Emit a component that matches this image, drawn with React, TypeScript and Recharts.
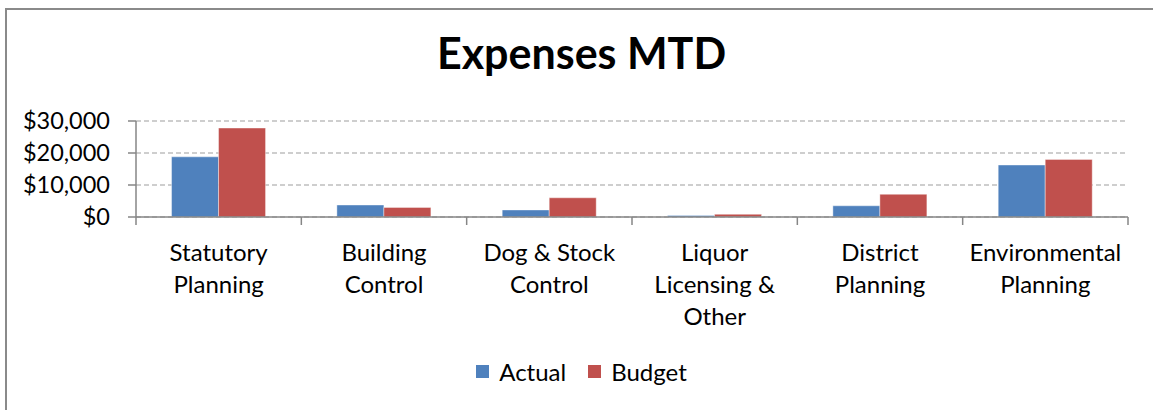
import React from "react";
import { BarChart, Bar, XAxis, YAxis, CartesianGrid } from "recharts";

const categories = [
  "Statutory Planning",
  "Building Control",
  "Dog & Stock Control",
  "Liquor Licensing & Other",
  "District Planning",
  "Environmental Planning",
];
const tickLabelLines = [
  ["Statutory", "Planning"],
  ["Building", "Control"],
  ["Dog & Stock", "Control"],
  ["Liquor", "Licensing &", "Other"],
  ["District", "Planning"],
  ["Environmental", "Planning"],
];
const actual = [18800, 3750, 2200, 500, 3500, 16250];
const budget = [27800, 3000, 6000, 850, 7100, 18000];
const yTicks = [0, 10000, 20000, 30000];
const seriesNames = ["Actual", "Budget"];
const seriesColors = ["#4F81BD", "#C0504D"];

const data = categories.map((c, i) => ({ name: c, Actual: actual[i], Budget: budget[i] }));

const W = 1153;
const H = 410;
const margin = { top: 121, right: 25, left: 10, bottom: 43 };
const yAxisWidth = 126;
const xAxisHeight = 150;
const plotWidth = W - margin.left - yAxisWidth - margin.right;
const band = plotWidth / categories.length;
const FONT = "Lato, 'Open Sans', sans-serif";

const XTick = (props: any) => {
  const { x, y, index } = props;
  const lines = tickLabelLines[index] || [];
  return (
    <g>
      <line x1={x - band / 2} x2={x - band / 2} y1={y} y2={y + 8} stroke="#868686" strokeWidth={1.5} />
      {index === categories.length - 1 && (
        <line x1={x + band / 2} x2={x + band / 2} y1={y} y2={y + 8} stroke="#868686" strokeWidth={1.5} />
      )}
      {lines.map((l, i) => (
        <text key={i} x={x} y={y + 44 + i * 32} textAnchor="middle" fontFamily={FONT} fontSize={24} fill="#000">
          {l}
        </text>
      ))}
    </g>
  );
};

export default function App() {
  return (
    <div style={{ position: "absolute", left: 0, top: 0, width: W, height: H, background: "#fff", overflow: "hidden" }}>
      <div
        style={{
          position: "absolute",
          left: 0,
          width: W + 10,
          top: 27,
          textAlign: "center",
          fontFamily: FONT,
          fontWeight: 700,
          fontSize: 43,
          lineHeight: "52px",
          color: "#000",
        }}
      >
        Expenses MTD
      </div>
      <div style={{ position: "absolute", left: 0, top: 0 }}>
        <BarChart width={W} height={H} data={data} margin={margin} barCategoryGap="21.5%" barGap={0}>
          <CartesianGrid vertical={false} stroke="#bfbfbf" strokeDasharray="5 3" strokeWidth={1.5} />
          <XAxis
            dataKey="name"
            height={xAxisHeight}
            tickLine={false}
            tickSize={0}
            tickMargin={0}
            axisLine={{ stroke: "#868686", strokeWidth: 1.5 }}
            tick={<XTick />}
            interval={0}
          />
          <YAxis
            width={yAxisWidth}
            domain={[0, 30000]}
            ticks={yTicks}
            tickSize={8}
            tickMargin={18}
            tickLine={{ stroke: "#868686", strokeWidth: 1.5 }}
            axisLine={{ stroke: "#868686", strokeWidth: 1.5 }}
            tick={{ fontFamily: FONT, fontSize: 23.5, fill: "#000" }}
            tickFormatter={(v: number) => "$" + v.toLocaleString("en-US")}
            interval={0}
          />
          <Bar dataKey="Actual" fill={seriesColors[0]} stroke="#ffffff" strokeOpacity={0.4} isAnimationActive={false} />
          <Bar dataKey="Budget" fill={seriesColors[1]} stroke="#ffffff" strokeOpacity={0.4} isAnimationActive={false} />
        </BarChart>
      </div>
      <div
        style={{
          position: "absolute",
          left: 0,
          width: W + 10,
          top: 357,
          display: "flex",
          justifyContent: "center",
          alignItems: "center",
          fontFamily: FONT,
          fontSize: 24,
          color: "#000",
        }}
      >
        {seriesNames.map((n, i) => (
          <div key={n} style={{ display: "flex", alignItems: "center", marginRight: i === 0 ? 22 : 0 }}>
            <span style={{ display: "inline-block", width: 13, height: 13, background: seriesColors[i], marginRight: 10 }} />
            <span>{n}</span>
          </div>
        ))}
      </div>
      <div
        style={{
          position: "absolute",
          left: 5,
          top: 8,
          width: W + 10,
          height: H + 10,
          borderLeft: "2px solid #8a8a8a",
          borderTop: "2px solid #8a8a8a",
          boxSizing: "border-box",
          pointerEvents: "none",
          zIndex: 5,
        }}
      />
    </div>
  );
}
